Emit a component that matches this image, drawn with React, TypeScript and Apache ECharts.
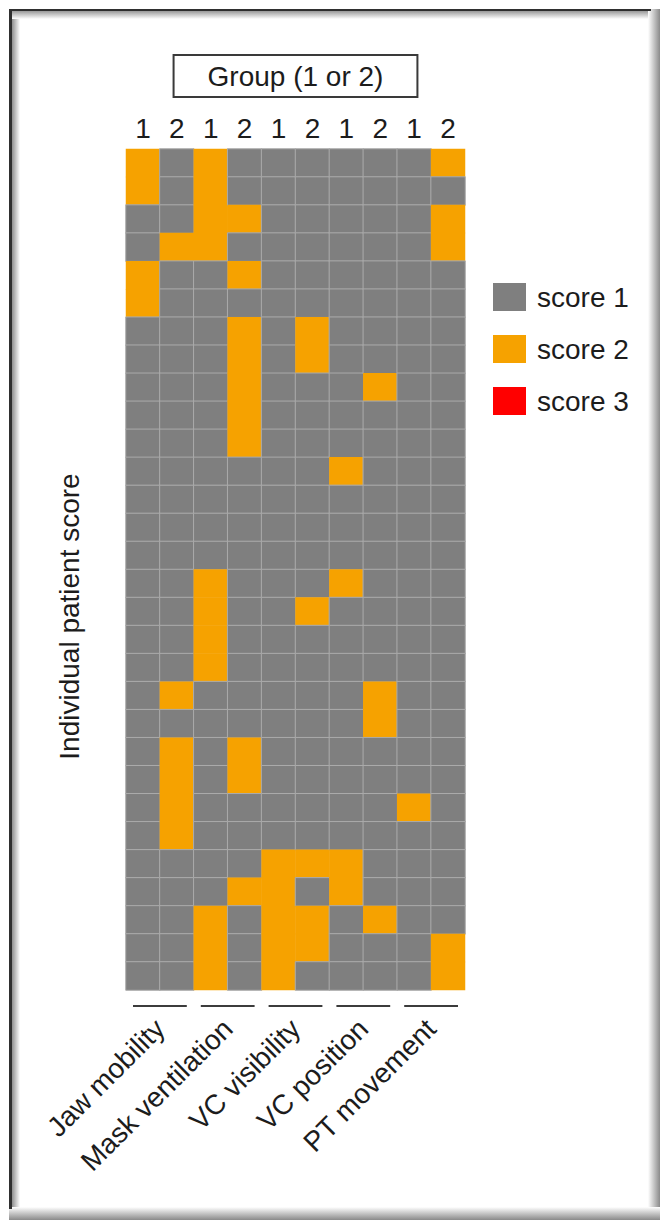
import React, { useEffect, useRef } from "react";
import * as echarts from "echarts";

// Column headers: group of each column pair
const groups = ["1", "2", "1", "2", "1", "2", "1", "2", "1", "2"];
// Airway assessment items, each spanning one pair of columns
const measures = ["Jaw mobility", "Mask ventilation", "VC visibility", "VC position", "PT movement"];
const scoreLabels = ["score 1", "score 2", "score 3"];
const scoreColors = ["#7f7f7f", "#f6a200", "#ff0000"];

// Scores per patient (patient 1 first), one array per item and group
const jawMobility1 = [2, 2, 1, 1, 2, 2, 1, 1, 1, 1, 1, 1, 1, 1, 1, 1, 1, 1, 1, 1, 1, 1, 1, 1, 1, 1, 1, 1, 1, 1];
const jawMobility2 = [1, 1, 1, 2, 1, 1, 1, 1, 1, 1, 1, 1, 1, 1, 1, 1, 1, 1, 1, 2, 1, 2, 2, 2, 2, 1, 1, 1, 1, 1];
const maskVentilation1 = [2, 2, 2, 2, 1, 1, 1, 1, 1, 1, 1, 1, 1, 1, 1, 2, 2, 2, 2, 1, 1, 1, 1, 1, 1, 1, 1, 2, 2, 2];
const maskVentilation2 = [1, 1, 2, 1, 2, 1, 2, 2, 2, 2, 2, 1, 1, 1, 1, 1, 1, 1, 1, 1, 1, 2, 2, 1, 1, 1, 2, 1, 1, 1];
const vcVisibility1 = [1, 1, 1, 1, 1, 1, 1, 1, 1, 1, 1, 1, 1, 1, 1, 1, 1, 1, 1, 1, 1, 1, 1, 1, 1, 2, 2, 2, 2, 2];
const vcVisibility2 = [1, 1, 1, 1, 1, 1, 2, 2, 1, 1, 1, 1, 1, 1, 1, 1, 2, 1, 1, 1, 1, 1, 1, 1, 1, 2, 1, 2, 2, 1];
const vcPosition1 = [1, 1, 1, 1, 1, 1, 1, 1, 1, 1, 1, 2, 1, 1, 1, 2, 1, 1, 1, 1, 1, 1, 1, 1, 1, 2, 2, 1, 1, 1];
const vcPosition2 = [1, 1, 1, 1, 1, 1, 1, 1, 2, 1, 1, 1, 1, 1, 1, 1, 1, 1, 1, 2, 2, 1, 1, 1, 1, 1, 1, 2, 1, 1];
const ptMovement1 = [1, 1, 1, 1, 1, 1, 1, 1, 1, 1, 1, 1, 1, 1, 1, 1, 1, 1, 1, 1, 1, 1, 1, 2, 1, 1, 1, 1, 1, 1];
const ptMovement2 = [2, 1, 2, 2, 1, 1, 1, 1, 1, 1, 1, 1, 1, 1, 1, 1, 1, 1, 1, 1, 1, 1, 1, 1, 1, 1, 1, 1, 2, 2];

const columns = [
  jawMobility1, jawMobility2,
  maskVentilation1, maskVentilation2,
  vcVisibility1, vcVisibility2,
  vcPosition1, vcPosition2,
  ptMovement1, ptMovement2,
];

const FONT = "'Liberation Sans', Arial, Helvetica, sans-serif";
const TEXT = "#1c1c1c";

export default function App() {
  const ref = useRef<HTMLDivElement>(null);

  useEffect(() => {
    if (!ref.current) return;
    const chart = echarts.init(ref.current, undefined, { renderer: "svg" });

    const patients = jawMobility1.map((_, i) => String(i + 1));
    const data: any[] = [];
    columns.forEach((col, x) =>
      col.forEach((v, y) =>
        data.push({
          value: [x, y, v],
          itemStyle: v === 1 ? { borderColor: "#ababab", borderWidth: 1 } : { borderWidth: 0 },
        })
      )
    );

    chart.setOption({
      animation: false,
      backgroundColor: "#ffffff",
      textStyle: { fontFamily: FONT },
      grid: { left: 126, top: 149, width: 339, height: 841 },
      xAxis: [
        {
          type: "category",
          data: groups,
          position: "top",
          axisLine: { show: false },
          axisTick: { show: false },
          splitLine: { show: false },
          axisLabel: { interval: 0, fontSize: 28, color: TEXT, margin: 7, fontFamily: FONT },
          name: "Group (1 or 2)",
          nameLocation: "middle",
          nameGap: 52,
          nameTextStyle: {
            fontSize: 28,
            color: TEXT,
            fontFamily: FONT,
            lineHeight: 30,
            borderColor: "#3a3a3a",
            borderWidth: 2,
            padding: [6, 34, 6, 34],
          },
        },
        {
          type: "category",
          data: measures,
          position: "bottom",
          gridIndex: 0,
          axisLine: { show: false },
          axisTick: { show: false },
          splitLine: { show: false },
          axisLabel: { interval: 0, rotate: 45, fontSize: 28, color: TEXT, margin: 34, fontFamily: FONT },
        },
      ],
      yAxis: {
        type: "category",
        data: patients,
        inverse: true,
        axisLine: { show: false },
        axisTick: { show: false },
        axisLabel: { show: false },
        splitLine: { show: false },
        name: "Individual patient score",
        nameLocation: "middle",
        nameRotate: 90,
        nameGap: 43,
        nameTextStyle: { fontSize: 28, color: TEXT, fontFamily: FONT, padding: [0, 94, 0, 0] },
      },
      visualMap: {
        type: "piecewise",
        dimension: 2,
        orient: "vertical",
        inverse: true,
        align: "left",
        left: 478,
        top: 268,
        itemWidth: 33,
        itemHeight: 28,
        itemGap: 24,
        textGap: 11,
        itemSymbol: "rect",
        textStyle: { fontSize: 28, color: TEXT, fontFamily: FONT },
        pieces: scoreLabels.map((label, i) => ({ value: i + 1, label, color: scoreColors[i] })),
      },
      series: [
        {
          type: "heatmap",
          xAxisIndex: 0,
          yAxisIndex: 0,
          data,
          emphasis: { disabled: true },
        },
      ],
    });

    // Underlines below each column pair, placed from the axis scale
    const c0 = chart.convertToPixel({ xAxisIndex: 0 }, 0) as number;
    const c1 = chart.convertToPixel({ xAxisIndex: 0 }, 1) as number;
    const band = c1 - c0;
    const lastRow = chart.convertToPixel({ yAxisIndex: 0 }, patients.length - 1) as number;
    const lineY = lastRow + 14 + 16;
    const inset = 7;
    const underlines = measures.map((_, p) => {
      const left = (chart.convertToPixel({ xAxisIndex: 0 }, 2 * p) as number) - band / 2 + inset;
      const right = (chart.convertToPixel({ xAxisIndex: 0 }, 2 * p + 1) as number) + band / 2 - inset;
      return {
        type: "line",
        shape: { x1: left, y1: lineY, x2: right, y2: lineY },
        style: { stroke: "#3c3c3c", lineWidth: 2 },
        silent: true,
      };
    });

    const grad = (x: number, y: number, x2: number, y2: number, from: string, to: string) =>
      new echarts.graphic.LinearGradient(x, y, x2, y2, [
        { offset: 0, color: from },
        { offset: 1, color: to },
      ]);

    // Page frame with a soft inner shade
    const frame = [
      { type: "rect", shape: { x: 12, y: 11, width: 8, height: 1196 }, style: { fill: grad(0, 0, 1, 0, "#8f8f8f", "#ffffff") }, silent: true },
      { type: "rect", shape: { x: 12, y: 11, width: 636, height: 8 }, style: { fill: grad(0, 0, 0, 1, "#9a9a9a", "#ffffff") }, silent: true },
      { type: "rect", shape: { x: 648, y: 9, width: 12, height: 1211 }, style: { fill: grad(0, 0, 1, 0, "#ffffff", "#8a8a8a") }, silent: true },
      { type: "rect", shape: { x: 9, y: 1207, width: 651, height: 13 }, style: { fill: grad(0, 0, 0, 1, "#ffffff", "#8a8a8a") }, silent: true },
      { type: "rect", shape: { x: 9, y: 9, width: 3, height: 1200 }, style: { fill: "#2f2f2f" }, silent: true },
      { type: "rect", shape: { x: 9, y: 9, width: 642, height: 2 }, style: { fill: "#2f2f2f" }, silent: true },
    ];

    chart.setOption({ graphic: [...frame, ...underlines] });

    return () => chart.dispose();
  }, []);

  return <div ref={ref} style={{ position: "fixed", left: 0, top: 0, width: 660, height: 1220 }} />;
}
